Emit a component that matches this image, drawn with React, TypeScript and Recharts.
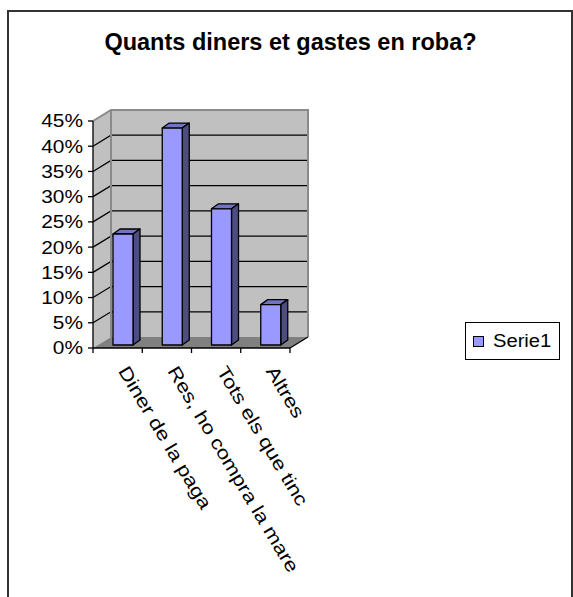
import React from "react";
import {
  Bar,
  BarChart,
  CartesianGrid,
  Legend,
  ReferenceArea,
  XAxis,
  YAxis,
} from "recharts";

// survey answers
const categories = [
  "Diner de la paga",
  "Res, ho compra la mare",
  "Tots els que tinc",
  "Altres",
];
const serie1 = [22, 43, 27, 8];
const yTicks = [0, 5, 10, 15, 20, 25, 30, 35, 40, 45];
const seriesName = "Serie1";
const title = "Quants diners et gastes en roba?";

const data = categories.map((name, i) => ({ name, value: serie1[i] }));

const W = 573;
const H = 597;
const FONT = "'Liberation Sans', Arial, Helvetica, sans-serif";
const STRETCH = 1.16;

const margin = { top: 121, right: 283, bottom: 219, left: 33 };
const Y_AXIS_W = 60;
const X_AXIS_H = 30;
const PLOT_W = W - margin.left - Y_AXIS_W - margin.right;
const BAND = PLOT_W / categories.length;

// 3d depth of the walls and the bars
const DX = 18;
const DY = -11;
const BAR_SHIFT_X = 5;
const BAR_SHIFT_Y = -3;
const BDX = 7;
const BDY = -5;

const Walls = (props: any) => {
  const { x, y, width, height } = props;
  const bottom = y + height;
  const right = x + width;
  const yMax = yTicks[yTicks.length - 1];
  const lines = yTicks
    .filter((t) => t > 0 && t < yMax)
    .map((t) => bottom - (t / yMax) * height);
  return (
    <g>
      <polygon
        points={`${x},${y} ${x + DX},${y + DY} ${x + DX},${bottom + DY} ${x},${bottom}`}
        fill="#c0c0c0"
      />
      <rect x={x + DX} y={y + DY} width={width} height={height} fill="#c0c0c0" />
      <polygon
        points={`${x},${bottom} ${x + DX},${bottom + DY} ${right + DX},${bottom + DY} ${right},${bottom}`}
        fill="#808080"
      />
      {lines.map((ly, i) => (
        <polyline
          key={i}
          points={`${x},${ly} ${x + DX},${ly + DY} ${right + DX},${ly + DY}`}
          fill="none"
          stroke="#000"
          strokeWidth={1.3}
        />
      ))}
      <polyline
        points={`${x},${y} ${x + DX},${y + DY} ${right + DX},${y + DY} ${right + DX},${bottom + DY}`}
        fill="none"
        stroke="#8a8a8a"
        strokeWidth={2}
      />
      <line x1={x + DX} y1={y + DY} x2={x + DX} y2={bottom + DY} stroke="#8a8a8a" strokeWidth={2} />
      <line x1={right} y1={bottom} x2={right + DX} y2={bottom + DY} stroke="#000" strokeWidth={1.3} />
    </g>
  );
};

const Bar3D = (props: any) => {
  const { x, y, width, height } = props;
  const fx = x + BAR_SHIFT_X;
  const fy = y + BAR_SHIFT_Y;
  const r = fx + width;
  return (
    <g stroke="#000" strokeWidth={1.3} strokeLinejoin="round">
      <polygon
        points={`${fx},${fy} ${fx + BDX},${fy + BDY} ${r + BDX},${fy + BDY} ${r},${fy}`}
        fill="#7373c4"
      />
      <polygon
        points={`${r},${fy} ${r + BDX},${fy + BDY} ${r + BDX},${fy + height + BDY} ${r},${fy + height}`}
        fill="#4d4d80"
      />
      <rect x={fx} y={fy} width={width} height={height} fill="#9999ff" />
    </g>
  );
};

const PercentTick = (props: any) => {
  const { x, y, payload } = props;
  return (
    <text
      transform={`translate(${x},${y}) scale(${STRETCH},1)`}
      textAnchor="end"
      dy="0.36em"
      fontSize={18}
      fontFamily={FONT}
      fill="#000"
    >
      {`${payload.value}%`}
    </text>
  );
};

const CategoryTick = (props: any) => {
  const { x, y, payload, index } = props;
  const half = BAND / 2;
  return (
    <g>
      <line x1={x - half} y1={y} x2={x - half} y2={y + 5} stroke="#000" strokeWidth={1.3} />
      {index === categories.length - 1 && (
        <line x1={x + half} y1={y} x2={x + half} y2={y + 5} stroke="#000" strokeWidth={1.3} />
      )}
      <text
        transform={`translate(${x},${y + 23}) rotate(59) scale(1.2,1)`}
        fontSize={18.5}
        fontFamily={FONT}
        fill="#000"
      >
        {payload.value}
      </text>
    </g>
  );
};

const LegendBox = (props: any) => {
  const { payload } = props;
  return (
    <div
      style={{
        boxSizing: "border-box",
        width: 95,
        height: 38,
        border: "1px solid #000",
        background: "#fff",
        display: "flex",
        alignItems: "center",
        paddingLeft: 7,
        fontFamily: FONT,
        fontSize: 18,
      }}
    >
      {(payload || []).map((p: any) => (
        <div key={p.value} style={{ display: "flex", alignItems: "center" }}>
          <span
            style={{
              boxSizing: "border-box",
              width: 11,
              height: 11,
              border: "1px solid #000",
              background: "#9999ff",
              marginRight: 9,
            }}
          />
          <span
            style={{
              display: "inline-block",
              transform: "scaleX(1.12)",
              transformOrigin: "left center",
            }}
          >
            {p.value}
          </span>
        </div>
      ))}
    </div>
  );
};

export default function App() {
  return (
    <div
      style={{
        position: "absolute",
        left: 0,
        top: 0,
        width: W,
        height: H,
        background: "#fff",
        overflow: "hidden",
        fontFamily: FONT,
      }}
    >
      <div
        style={{
          position: "absolute",
          left: 0,
          top: 31,
          width: 581,
          textAlign: "center",
          fontWeight: "bold",
          fontSize: 23.5,
          lineHeight: "23px",
          color: "#000",
          whiteSpace: "nowrap",
        }}
      >
        {title}
      </div>
      <BarChart width={W} height={H} data={data} margin={margin}>
        <ReferenceArea yAxisId={0} xAxisId={0} y1={0} y2={45} shape={Walls} />
        <CartesianGrid horizontal={false} vertical={false} />
        <XAxis
          dataKey="name"
          height={X_AXIS_H}
          interval={0}
          tickLine={false}
          tickSize={0}
          tickMargin={0}
          axisLine={{ stroke: "#000", strokeWidth: 1.3 }}
          tick={<CategoryTick />}
        />
        <YAxis
          width={Y_AXIS_W}
          domain={[0, 45]}
          ticks={yTicks}
          interval={0}
          tickSize={5}
          tickMargin={5}
          axisLine={{ stroke: "#000", strokeWidth: 1.3 }}
          tickLine={{ stroke: "#000", strokeWidth: 1.3 }}
          tick={<PercentTick />}
        />
        <Legend
          layout="horizontal"
          align="center"
          verticalAlign="middle"
          content={<LegendBox />}
          wrapperStyle={{ left: 465, top: 322, width: 95, height: 38 }}
        />
        <Bar
          dataKey="value"
          name={seriesName}
          barSize={20}
          shape={Bar3D}
          isAnimationActive={false}
        />
      </BarChart>
      <div
        style={{
          position: "absolute",
          left: 7,
          top: 10,
          width: 566,
          height: 700,
          boxSizing: "border-box",
          border: "2px solid #333",
          pointerEvents: "none",
        }}
      />
    </div>
  );
}
